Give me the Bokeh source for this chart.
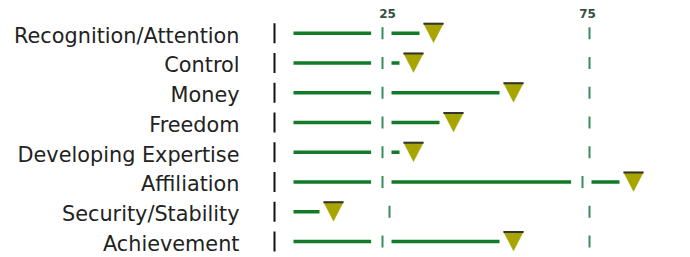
from bokeh.plotting import figure
from bokeh.models import Range1d
from bokeh.core.properties import value
from bokeh.embed import file_html
from bokeh.resources import INLINE

# ---- data ----
categories = ["Recognition/Attention", "Control", "Money", "Freedom",
              "Developing Expertise", "Affiliation", "Security/Stability", "Achievement"]
scores = [36, 31, 56, 41, 31, 86, 11, 56]
ref_values = [25, 75]
ref_labels = ["25", "75"]

# ---- layout constants (data units: x in score, y in rows) ----
X_START, X_END = -72.25, 100.25
Y_TOP, Y_BOT = -1.099, 7.539
LINE_START = 1.0
END_GAP = 3.5          # distance between line end and marker centre
GAP_L, GAP_R = 4.6, 0.5
TICK_SHIFT = 1.75
LABEL_X = -12.5
BLACK_X = -3.75
TRI_HW = 2.5
TRI_UP, TRI_DN = 0.336, 0.316

p = figure(width=690, height=257, output_backend="svg", toolbar_location=None,
           x_range=Range1d(X_START, X_END), y_range=Range1d(Y_BOT, Y_TOP),
           min_border=0, min_border_left=0, min_border_right=0,
           min_border_top=0, min_border_bottom=0)
p.axis.visible = False
p.grid.visible = False
p.outline_line_color = None
p.background_fill_color = "white"
p.border_fill_color = "white"

rows = list(range(len(categories)))

# category labels
p.text(x=[LABEL_X] * len(rows), y=rows, text=categories, text_align="right",
       text_baseline="middle", y_offset=2.5, text_font=value("DejaVu Sans"),
       text_font_size="20.8px", text_color="#222222")

# black row ticks
p.segment(x0=[BLACK_X] * len(rows), x1=[BLACK_X] * len(rows),
          y0=[r - 0.336 for r in rows], y1=[r + 0.336 for r in rows],
          line_color="#111111", line_width=2)

# green score lines, broken around reference lines; reference ticks per row
sx0, sx1, sy = [], [], []
tx, ty = [], []
for r, s in zip(rows, scores):
    end = s - END_GAP
    cur = LINE_START
    for t in ref_values:
        if end > t:
            sx0.append(cur); sx1.append(t - GAP_L); sy.append(r)
            cur = t + GAP_R
            tx.append(t - TICK_SHIFT)
        else:
            tx.append(t)
        ty.append(r)
    if end > cur:
        sx0.append(cur); sx1.append(end); sy.append(r)

p.segment(x0=sx0, x1=sx1, y0=sy, y1=sy, line_color="#137a2a", line_width=3.5)
p.segment(x0=tx, x1=tx, y0=[y - 0.2 for y in ty], y1=[y + 0.2 for y in ty],
          line_color="#3a8c5e", line_width=2)

# reference labels
p.text(x=ref_values, y=[Y_TOP + 0.45] * len(ref_values), text=ref_labels,
       text_align="center", text_baseline="middle", x_offset=-2,
       text_font=value("DejaVu Sans"), text_font_style="bold",
       text_font_size="12px", text_color="#34533f")

# triangle markers
xs = [[s - TRI_HW, s + TRI_HW, s] for s in scores]
ys = [[r - TRI_UP, r - TRI_UP, r + TRI_DN] for r in rows]
p.patches(xs=xs, ys=ys, fill_color="#a8a400", line_color="#a8a400", line_width=0.5)
p.segment(x0=[s - TRI_HW for s in scores], x1=[s + TRI_HW for s in scores],
          y0=[r - TRI_UP + 0.02 for r in rows], y1=[r - TRI_UP + 0.02 for r in rows],
          line_color="#333333", line_width=2)

open("out.html", "w").write(file_html(p, INLINE))
